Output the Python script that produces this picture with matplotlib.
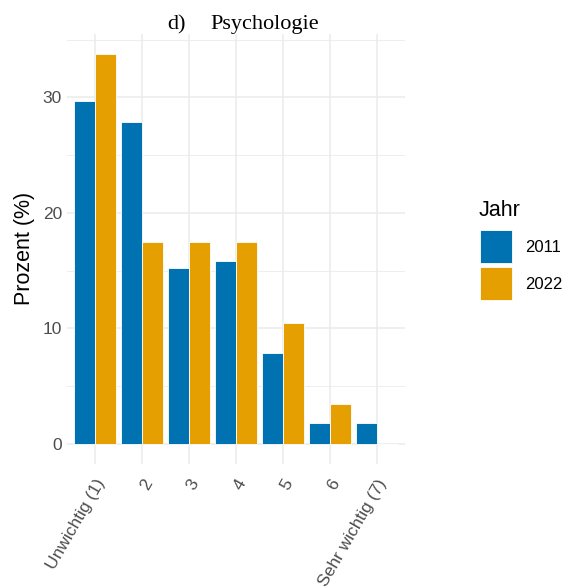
import matplotlib
matplotlib.use("Agg")
import matplotlib.pyplot as plt
import numpy as np
from matplotlib.patches import Rectangle

categories = ["Unwichtig (1)", "2", "3", "4", "5", "6", "Sehr wichtig (7)"]
years = ["2011", "2022"]
values_2011 = [29.7, 27.9, 15.2, 15.8, 7.9, 1.8, 1.8]
values_2022 = [33.8, 17.5, 17.5, 17.5, 10.5, 3.5, 0.0]
colors = ["#0072B2", "#E69F00"]

plt.rcParams["font.family"] = ["Liberation Sans", "DejaVu Sans"]

W, H = 573, 588
fig = plt.figure(figsize=(W / 100, H / 100), dpi=100)
ax = fig.add_axes([67 / W, 1 - 463.5 / H, (405 - 67) / W, (463.5 - 34) / H])

x = np.arange(len(categories))
bw = 0.45
ax.bar(x - bw / 2, values_2011, width=bw, color=colors[0], edgecolor="white", linewidth=0.6, zorder=3)
ax.bar(x + bw / 2, values_2022, width=bw, color=colors[1], edgecolor="white", linewidth=0.6, zorder=3)

ymax = max(max(values_2011), max(values_2022))
ax.set_ylim(-0.05 * ymax, 1.05 * ymax)
ax.set_xlim(-0.6, len(categories) - 0.4)

ax.set_yticks([0, 10, 20, 30])
ax.set_yticks([5, 15, 25, 35], minor=True)
ax.set_xticks(x)
ax.set_xticklabels(categories, rotation=60, ha="right", va="top", rotation_mode="anchor")

ax.grid(True, which="major", color="#EBEBEB", linewidth=1.1, zorder=0)
ax.grid(True, which="minor", axis="y", color="#EBEBEB", linewidth=0.6, zorder=0)
ax.set_axisbelow(True)
for s in ax.spines.values():
    s.set_visible(False)
ax.tick_params(axis="both", which="both", length=0, labelsize=12.5, labelcolor="#4D4D4D")
ax.tick_params(axis="x", pad=9.5)
ax.tick_params(axis="y", pad=3.6)

ax.set_ylabel("Prozent (%)", fontsize=15.5, color="black")
ax.yaxis.set_label_coords(-0.094, 0.5)

fig.text(167 / W, 1 - 29 / H, "d)", fontsize=16, family="Liberation Serif",
         ha="left", va="baseline")
fig.text(210 / W, 1 - 29 / H, "Psychologie", fontsize=16, family="Liberation Serif",
         ha="left", va="baseline")

# legend drawn in figure pixel units
fig.text(479 / W, 1 - 216 / H, "Jahr", fontsize=15.5, ha="left", va="baseline")
key_tops = [230, 266.5]
for year, color, top in zip(years, colors, key_tops):
    fig.add_artist(Rectangle((480 / W, 1 - (top + 33) / H), 32 / W, 33 / H,
                             transform=fig.transFigure, facecolor=color,
                             edgecolor="white", linewidth=0.6))
    fig.text(525 / W, 1 - (top + 16.5) / H, year, fontsize=12,
             ha="left", va="center_baseline")

fig.savefig("out.png", dpi=100)
